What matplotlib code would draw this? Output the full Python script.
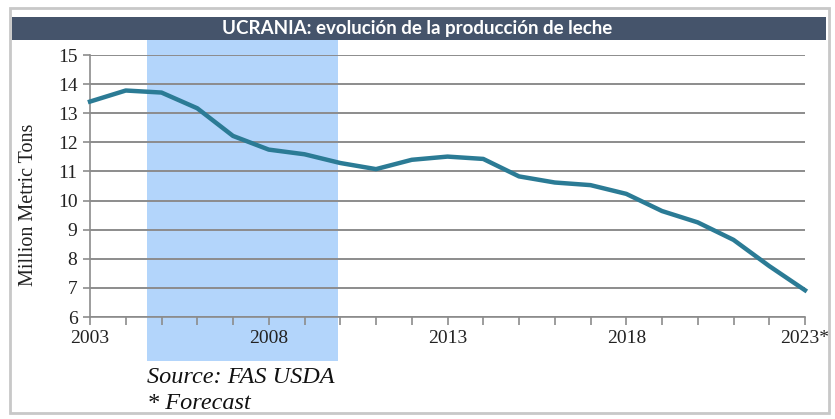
import matplotlib.pyplot as plt
from matplotlib.patches import Rectangle
from matplotlib.transforms import blended_transform_factory

years = list(range(2003, 2024))
production = [13.40, 13.78, 13.71, 13.17, 12.22, 11.75, 11.59, 11.29, 11.08, 11.40,
              11.51, 11.43, 10.83, 10.62, 10.53, 10.23, 9.64, 9.25, 8.65, 7.75, 6.92]
label_years = [2003, 2008, 2013, 2018, 2023]
label_text = ['2003', '2008', '2013', '2018', '2023*']
highlight = (2004.6, 2009.95)

fig = plt.figure(figsize=(8.35, 4.19), dpi=100)

# outer frame and title bar
fig.patches.append(Rectangle((10 / 835, 1 - 413 / 419), 819 / 835, 405 / 419,
                             transform=fig.transFigure, fill=False,
                             edgecolor='#c8c8c8', linewidth=2))
fig.patches.append(Rectangle((12 / 835, 1 - 40 / 419), 814 / 835, 23 / 419,
                             transform=fig.transFigure, facecolor='#45546b',
                             edgecolor='none'))
fig.text(0.5, 1 - 28.5 / 419, 'UCRANIA: evolución de la producción de leche',
         ha='center', va='center', color='white', fontsize=13.5,
         fontweight='bold', family='Lato')

ax = fig.add_axes([90 / 835, 1 - 317 / 419, 715 / 835, 262 / 419])
ax.patch.set_alpha(0)

tr = blended_transform_factory(ax.transData, ax.transAxes)
ax.add_patch(Rectangle((highlight[0], -0.167), highlight[1] - highlight[0], 1.226,
                       transform=tr, facecolor='#b3d5fb', edgecolor='none',
                       clip_on=False, zorder=0.2))

ax.plot(years, production, color='#2b7b95', linewidth=3.2, zorder=3,
        solid_joinstyle='round', clip_on=False)

ax.set_xlim(2003, 2023)
ax.set_ylim(6, 15)
ax.set_yticks(range(6, 16))
ax.set_xticks(years, minor=True)
ax.set_xticks(label_years)
ax.set_xticklabels(label_text)
ax.grid(axis='y', color='#8c8c8c', linewidth=1.4)
ax.set_axisbelow(True)

for s in ['top', 'right']:
    ax.spines[s].set_visible(False)
for s in ['left', 'bottom']:
    ax.spines[s].set_color('#8c8c8c')
    ax.spines[s].set_linewidth(1.2)

ax.tick_params(axis='both', which='both', direction='out', color='#8c8c8c',
               width=1.2, labelsize=14, labelcolor='#222222')
ax.tick_params(axis='x', which='both', length=6, pad=3)
ax.tick_params(axis='y', length=5, pad=4)
for lbl in ax.get_xticklabels() + ax.get_yticklabels():
    lbl.set_family('Liberation Serif')

ax.set_ylabel('Million Metric Tons', family='Liberation Serif', fontsize=14.5,
              color='#222222')
ax.yaxis.set_label_coords(-0.073, 0.43)

fig.text(147 / 835, 1 - 377 / 419, 'Source: FAS USDA', style='italic',
         family='Liberation Serif', fontsize=17.5, va='center', color='#111111')
fig.text(147 / 835, 1 - 403 / 419, '* Forecast', style='italic',
         family='Liberation Serif', fontsize=17.5, va='center', color='#111111')

fig.savefig('out.png', dpi=100)
